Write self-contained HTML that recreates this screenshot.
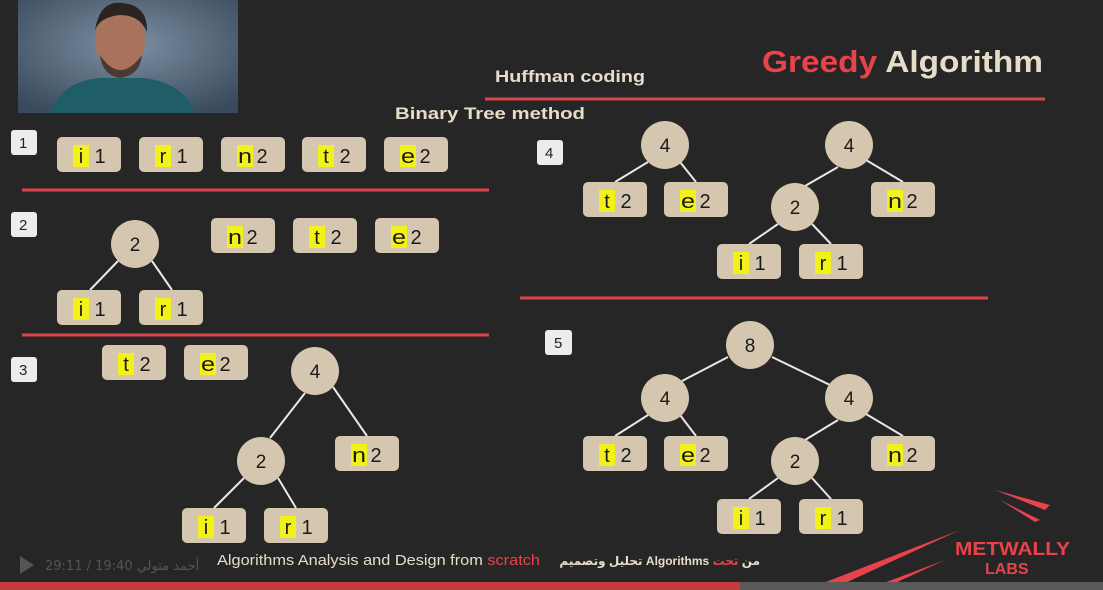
<!DOCTYPE html>
<html><head><meta charset="utf-8"><style>
html,body{margin:0;padding:0;background:#262626;}
svg{display:block;font-family:"Liberation Sans",sans-serif;}
.n{fill:#d5c7af;}
.y{fill:#f2f21a;}
.t{font-size:20px;fill:#1a1a1a;}
.c{fill:#d5c7af;}
.l{stroke:#e8e8e8;stroke-width:2;}
.r{stroke:#d9454b;stroke-width:3;}
.lb{fill:#ececec;}
</style></head><body>
<svg width="1103" height="590" viewBox="0 0 1103 590" xmlns="http://www.w3.org/2000/svg">
<defs>
<radialGradient id="bg" cx="50%" cy="40%" r="70%"><stop offset="0" stop-color="#7d8fa3"/><stop offset="1" stop-color="#3a4a5c"/></radialGradient>
<g id="L"><rect width="64" height="35" rx="5" class="n"/><rect x="16" y="8" width="16" height="22" class="y"/></g>
</defs>
<rect width="1103" height="590" fill="#262626"/>
<rect x="18" y="0" width="220" height="113" fill="url(#bg)"/>
<path d="M50 113 Q60 82 100 78 L145 78 Q185 84 195 113 Z" fill="#1f5e66"/>
<ellipse cx="120" cy="40" rx="25" ry="32" fill="#a8735a"/>
<path d="M95 30 Q100 0 122 3 Q148 5 147 32 Q140 15 120 15 Q100 17 95 30Z" fill="#2a2320"/>
<path d="M100 55 Q120 85 142 55 Q140 75 120 78 Q102 75 100 55Z" fill="#4a3a33"/>
<text x="762" y="72" font-size="31" font-weight="bold" fill="#e8434a" textLength="281" lengthAdjust="spacingAndGlyphs">Greedy <tspan fill="#e6ddc8">Algorithm</tspan></text>
<text x="495" y="82" font-size="17" font-weight="bold" fill="#e6ddc8" textLength="150" lengthAdjust="spacingAndGlyphs">Huffman coding</text>
<line x1="485" y1="99" x2="1045" y2="99" class="r"/>
<text x="395" y="119" font-size="17" font-weight="bold" fill="#e6ddc8" textLength="190" lengthAdjust="spacingAndGlyphs">Binary Tree  method</text>
<line x1="22" y1="190" x2="489" y2="190" class="r"/>
<line x1="22" y1="335" x2="489" y2="335" class="r"/>
<line x1="520" y1="298" x2="988" y2="298" class="r"/>
<g font-size="15" fill="#222">
<rect x="11" y="130" width="26" height="25" rx="3" class="lb"/><text x="19" y="148">1</text>
<rect x="11" y="212" width="26" height="25" rx="3" class="lb"/><text x="19" y="230">2</text>
<rect x="11" y="357" width="26" height="25" rx="3" class="lb"/><text x="19" y="375">3</text>
<rect x="537" y="140" width="26" height="25" rx="3" class="lb"/><text x="545" y="158">4</text>
<rect x="545" y="330" width="27" height="25" rx="3" class="lb"/><text x="554" y="348">5</text>
</g>
<g class="l">
<line x1="118" y1="261" x2="90" y2="290"/><line x1="152" y1="261" x2="172" y2="290"/>
<line x1="305" y1="393" x2="270" y2="438"/><line x1="333" y1="387" x2="367" y2="436"/>
<line x1="244" y1="478" x2="214" y2="508"/><line x1="278" y1="478" x2="296" y2="508"/>
<line x1="648" y1="162" x2="615" y2="182"/><line x1="680" y1="162" x2="696" y2="182"/>
<line x1="838" y1="167" x2="805" y2="186"/><line x1="866" y1="160" x2="903" y2="182"/>
<line x1="778" y1="224" x2="749" y2="244"/><line x1="812" y1="224" x2="831" y2="244"/>
<line x1="728" y1="357" x2="682" y2="381"/><line x1="772" y1="357" x2="830" y2="385"/>
<line x1="648" y1="415" x2="615" y2="436"/><line x1="680" y1="415" x2="696" y2="436"/>
<line x1="838" y1="420" x2="805" y2="440"/><line x1="866" y1="414" x2="903" y2="436"/>
<line x1="778" y1="478" x2="749" y2="499"/><line x1="812" y1="478" x2="831" y2="499"/>
</g>
<g font-size="19" fill="#1a1a1a" text-anchor="middle">
<circle cx="135" cy="244" r="24" class="c"/><text x="135" y="251">2</text>
<circle cx="315" cy="371" r="24" class="c"/><text x="315" y="378">4</text>
<circle cx="261" cy="461" r="24" class="c"/><text x="261" y="468">2</text>
<circle cx="665" cy="145" r="24" class="c"/><text x="665" y="152">4</text>
<circle cx="849" cy="145" r="24" class="c"/><text x="849" y="152">4</text>
<circle cx="795" cy="207" r="24" class="c"/><text x="795" y="214">2</text>
<circle cx="750" cy="345" r="24" class="c"/><text x="750" y="352">8</text>
<circle cx="665" cy="398" r="24" class="c"/><text x="665" y="405">4</text>
<circle cx="849" cy="398" r="24" class="c"/><text x="849" y="405">4</text>
<circle cx="795" cy="461" r="24" class="c"/><text x="795" y="468">2</text>
</g>
<g class="t" text-anchor="middle">
<g transform="translate(57,137)"><use href="#L"/><text x="24" y="26">i</text><text x="43" y="26">1</text></g>
<g transform="translate(139,137)"><use href="#L"/><text x="24" y="26">r</text><text x="43" y="26">1</text></g>
<g transform="translate(221,137)"><use href="#L"/><text x="24" y="26" textLength="14" lengthAdjust="spacingAndGlyphs">n</text><text x="41" y="26">2</text></g>
<g transform="translate(302,137)"><use href="#L"/><text x="24" y="26">t</text><text x="43" y="26">2</text></g>
<g transform="translate(384,137)"><use href="#L"/><text x="24" y="26" textLength="14" lengthAdjust="spacingAndGlyphs">e</text><text x="41" y="26">2</text></g>
<g transform="translate(211,218)"><use href="#L"/><text x="24" y="26" textLength="14" lengthAdjust="spacingAndGlyphs">n</text><text x="41" y="26">2</text></g>
<g transform="translate(293,218)"><use href="#L"/><text x="24" y="26">t</text><text x="43" y="26">2</text></g>
<g transform="translate(375,218)"><use href="#L"/><text x="24" y="26" textLength="14" lengthAdjust="spacingAndGlyphs">e</text><text x="41" y="26">2</text></g>
<g transform="translate(57,290)"><use href="#L"/><text x="24" y="26">i</text><text x="43" y="26">1</text></g>
<g transform="translate(139,290)"><use href="#L"/><text x="24" y="26">r</text><text x="43" y="26">1</text></g>
<g transform="translate(102,345)"><use href="#L"/><text x="24" y="26">t</text><text x="43" y="26">2</text></g>
<g transform="translate(184,345)"><use href="#L"/><text x="24" y="26" textLength="14" lengthAdjust="spacingAndGlyphs">e</text><text x="41" y="26">2</text></g>
<g transform="translate(335,436)"><use href="#L"/><text x="24" y="26" textLength="14" lengthAdjust="spacingAndGlyphs">n</text><text x="41" y="26">2</text></g>
<g transform="translate(182,508)"><use href="#L"/><text x="24" y="26">i</text><text x="43" y="26">1</text></g>
<g transform="translate(264,508)"><use href="#L"/><text x="24" y="26">r</text><text x="43" y="26">1</text></g>
<g transform="translate(583,182)"><use href="#L"/><text x="24" y="26">t</text><text x="43" y="26">2</text></g>
<g transform="translate(664,182)"><use href="#L"/><text x="24" y="26" textLength="14" lengthAdjust="spacingAndGlyphs">e</text><text x="41" y="26">2</text></g>
<g transform="translate(871,182)"><use href="#L"/><text x="24" y="26" textLength="14" lengthAdjust="spacingAndGlyphs">n</text><text x="41" y="26">2</text></g>
<g transform="translate(717,244)"><use href="#L"/><text x="24" y="26">i</text><text x="43" y="26">1</text></g>
<g transform="translate(799,244)"><use href="#L"/><text x="24" y="26">r</text><text x="43" y="26">1</text></g>
<g transform="translate(583,436)"><use href="#L"/><text x="24" y="26">t</text><text x="43" y="26">2</text></g>
<g transform="translate(664,436)"><use href="#L"/><text x="24" y="26" textLength="14" lengthAdjust="spacingAndGlyphs">e</text><text x="41" y="26">2</text></g>
<g transform="translate(871,436)"><use href="#L"/><text x="24" y="26" textLength="14" lengthAdjust="spacingAndGlyphs">n</text><text x="41" y="26">2</text></g>
<g transform="translate(717,499)"><use href="#L"/><text x="24" y="26">i</text><text x="43" y="26">1</text></g>
<g transform="translate(799,499)"><use href="#L"/><text x="24" y="26">r</text><text x="43" y="26">1</text></g>
</g>
<text x="217" y="565" font-size="15" fill="#e6ddc8" textLength="323" lengthAdjust="spacingAndGlyphs">Algorithms Analysis and Design from <tspan fill="#e8434a">scratch</tspan></text>
<text x="760" y="565" font-size="12" font-weight="bold" fill="#e6ddc8" text-anchor="end" font-family="'Liberation Sans','DejaVu Sans',sans-serif">تحليل وتصميم Algorithms من <tspan fill="#e8434a">تحت</tspan></text>
<path d="M20 556 L34 565 L20 574 Z" fill="#555"/>
<text x="45" y="570" font-size="13" fill="#555" font-family="'DejaVu Sans',sans-serif">أحمد متولي 19:40 / 29:11</text>
<path d="M995 490 L1050 505 L1045 510 Z" fill="#e8434a"/>
<path d="M1000 500 L1040 520 L1035 522 Z" fill="#e8434a"/>
<path d="M960 530 L805 590 L830 590 Z" fill="#e8434a"/>
<path d="M945 560 L865 590 L880 590 Z" fill="#e8434a"/>
<text x="955" y="555" font-size="18" font-weight="bold" fill="#e8434a" textLength="115" lengthAdjust="spacingAndGlyphs">METWALLY</text>
<text x="985" y="574" font-size="16" font-weight="bold" fill="#e8434a">LABS</text>
<rect x="0" y="582" width="760" height="8" fill="#c73a3e"/>
<rect x="740" y="582" width="363" height="8" fill="#5a5a5a"/>
</svg>
</body></html>
